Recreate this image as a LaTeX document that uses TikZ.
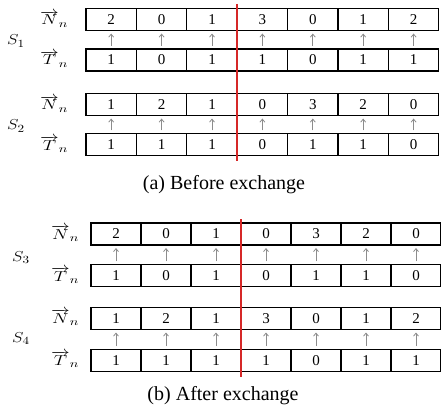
\documentclass[tikz,border=0pt]{standalone}
\usepackage{fontspec}
\setmainfont{Liberation Serif}
\usetikzlibrary{arrows.meta}
\definecolor{cutred}{RGB}{214,40,40}
\definecolor{arrgray}{RGB}{140,140,140}
% one row of cells: name prefix, left x, centre y, cell width, values
\newcommand\cellrow[5]{%
  \foreach \v [count=\k] in {#5} {%
    \node[cell, minimum width=#4pt] (#1-\k) at ({#2+(\k-0.5)*#4}, #3) {\v};
  }}
% arrows from each T cell up to the N cell above it
\newcommand\uparrows[2]{%
  \foreach \k in {1,...,7} {%
    \draw[uparr] (#1-\k.north) -- (#2-\k.south);
  }}
% widened vector labels
\newcommand\vlabel[1]{\scalebox{1.3}[1]{$\overrightarrow{#1}_{n}$}}
\newcommand\slabel[1]{\scalebox{1.2}[1]{$S_{#1}$}}
\begin{document}
\begin{tikzpicture}[x=1pt,y=-1pt,
  cell/.style={draw, line width=1.1pt, minimum height=22pt, inner sep=0pt,
    font=\fontsize{15}{15}\selectfont},
  uparr/.style={arrgray, line width=0.8pt, shorten >=2.5pt, shorten <=2.5pt,
    -{Straight Barb[length=3pt,width=5pt]}},
  cutline/.style={cutred, line width=1.6pt},
  vlab/.style={anchor=base west, inner sep=0pt, font=\fontsize{15.5}{15.5}\selectfont},
  slab/.style={anchor=base west, inner sep=0pt, font=\fontsize{15}{15}\selectfont},
  captext/.style={anchor=base, inner sep=0pt, font=\fontsize{20}{20}\selectfont}]
\useasboundingbox (0,0) rectangle (441,406);

% ---- (a) before exchange ----
\cellrow{aN}{86}{19.5}{50.4}{2,0,1,3,0,1,2}
\cellrow{aT}{86}{60}{50.4}{1,0,1,1,0,1,1}
\uparrows{aT}{aN}
\cellrow{bN}{86}{104.5}{50.4}{1,2,1,0,3,2,0}
\cellrow{bT}{86}{144.5}{50.4}{1,1,1,0,1,1,0}
\uparrows{bT}{bN}
\node[slab] (s1) at (7,45) {\slabel{1}};
\node[slab] (s2) at (7,130) {\slabel{2}};
\node[vlab] (laN) at (40,25) {\vlabel{N}};
\node[vlab] (laT) at (40,65) {\vlabel{T}};
\node[vlab] (lbN) at (40,110) {\vlabel{N}};
\node[vlab] (lbT) at (40,150) {\vlabel{T}};
\coordinate (cutAtop) at (237.2,4);
\coordinate (cutAbot) at (237.2,161);
\draw[cutline] (cutAtop) -- (cutAbot);
\node[captext] (capA) at (224,189) {(a) Before exchange};

% ---- (b) after exchange ----
\cellrow{cN}{91}{234}{50}{2,0,1,0,3,2,0}
\cellrow{cT}{91}{275.5}{50}{1,0,1,0,1,1,0}
\uparrows{cT}{cN}
\cellrow{dN}{91}{318.5}{50}{1,2,1,3,0,1,2}
\cellrow{dT}{91}{360.5}{50}{1,1,1,1,0,1,1}
\uparrows{dT}{dN}
\node[slab] (s3) at (12,261) {\slabel{3}};
\node[slab] (s4) at (12,342) {\slabel{4}};
\node[vlab] (lcN) at (51,239) {\vlabel{N}};
\node[vlab] (lcT) at (51,281) {\vlabel{T}};
\node[vlab] (ldN) at (51,323) {\vlabel{N}};
\node[vlab] (ldT) at (51,365) {\vlabel{T}};
\coordinate (cutBtop) at (241,219);
\coordinate (cutBbot) at (241,377);
\draw[cutline] (cutBtop) -- (cutBbot);
\node[captext] (capB) at (223,400) {(b) After exchange};
\end{tikzpicture}
\end{document}
